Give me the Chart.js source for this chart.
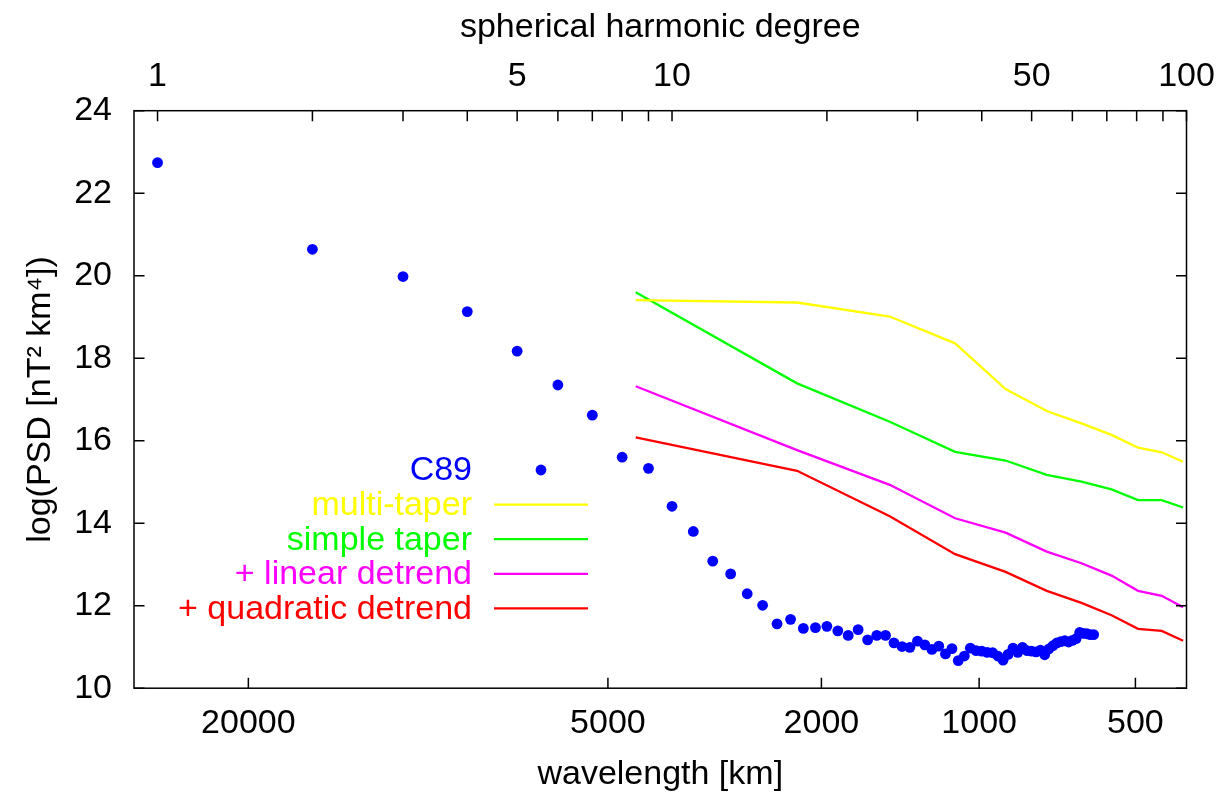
<!DOCTYPE html>
<html><head><meta charset="utf-8">
<script src="https://cdn.jsdelivr.net/npm/chart.js@4.4.1/dist/chart.umd.min.js"></script>
<style>html,body{margin:0;padding:0;background:#fff;overflow:hidden}#wrap{width:1230px;height:797px}</style>
</head><body><div id="wrap"><canvas id="c" width="1230" height="797"></canvas></div>
<script>
// Earth circumference (km): wavelength = C / (degree + 0.5)
const EARTH_CIRCUMFERENCE_KM = 40030;

// top axis: spherical harmonic degree
const degreeTicks = [1,2,3,4,5,6,7,8,9,10,20,30,40,50,60,70,80,90,100];
const degreeLabels = [1,5,10,50,100];
// bottom axis: wavelength in km
const wavelengthTicks = [20000,5000,2000,1000,500];
// left axis
const yTicks = [10,12,14,16,18,20,22,24];

// C89 spectrum (degree, log PSD)
const c89Degrees = [1,2,3,4,5,6,7,8,9,10,11,12,13,14,15,16,17,18,19,20,
  21,22,23,24,25,26,27,28,29,30,31,32,33,34,35,36,37,38,39,40,
  41,42,43,44,45,46,47,48,49,50,51,52,53,54,55,56,57,58,59,60,
  61,62,63,64,65,66];
const c89Values = [22.74,20.64,19.98,19.13,18.17,17.35,16.62,15.60,15.33,14.41,
  13.80,13.08,12.77,12.29,12.01,11.56,11.67,11.45,11.47,11.50,
  11.39,11.28,11.42,11.17,11.28,11.28,11.10,11.01,10.99,11.14,
  11.05,10.94,11.02,10.83,10.96,10.67,10.78,10.97,10.91,10.90,
  10.87,10.86,10.78,10.68,10.82,10.97,10.87,10.99,10.91,10.90,
  10.88,10.92,10.81,10.95,11.03,11.10,11.13,11.15,11.12,11.16,
  11.20,11.35,11.33,11.32,11.30,11.30];

// gridded-spectrum estimates (degree, log PSD)
const spectrumDegrees = [8.5,17.5,26.5,35.5,44.5,53.5,62.5,71.5,80.5,89.5,98.5];
const multiTaper       = [19.41,19.35,19.01,18.36,17.25,16.72,16.42,16.14,15.83,15.72,15.49];
const simpleTaper      = [19.60,17.39,16.46,15.73,15.52,15.17,15.01,14.82,14.56,14.56,14.38];
const linearDetrend    = [17.32,15.77,14.93,14.12,13.77,13.31,13.03,12.73,12.36,12.24,11.96];
const quadraticDetrend = [16.08,15.27,14.17,13.25,12.82,12.36,12.07,11.77,11.44,11.39,11.15];

const seriesNames = ['C89','multi-taper','simple taper','+ linear detrend','+ quadratic detrend'];
const seriesColors = ['#0000ff','#ffff00','#00ff00','#ff00ff','#ff0000'];

const FONT = '"Liberation Sans", Arial, Helvetica, sans-serif';
const FS = 34;
const LW = 2.3;

function pts(xs, ys){ return xs.map((x,i)=>({x:x, y:ys[i]})); }
function lineDs(i, ys){
  return {label: seriesNames[i], data: pts(spectrumDegrees, ys), showLine: true,
    borderColor: seriesColors[i], backgroundColor: seriesColors[i], borderWidth: LW,
    pointRadius: 0, tension: 0, fill: false};
}

const frameTicks = {
  id: 'frameTicks',
  afterDatasetsDraw(chart){
    const {ctx, chartArea:{left,right,top,bottom}, scales} = chart;
    const L = 10.5;
    ctx.save();
    ctx.strokeStyle = '#000'; ctx.lineWidth = 1.5;
    ctx.beginPath();
    scales.y.ticks.forEach(t => {
      const y = scales.y.getPixelForValue(t.value);
      ctx.moveTo(left, y); ctx.lineTo(left+L, y);
      ctx.moveTo(right, y); ctx.lineTo(right-L, y);
    });
    scales.x2.ticks.forEach(t => {
      const x = scales.x2.getPixelForValue(t.value);
      ctx.moveTo(x, top); ctx.lineTo(x, top+L);
    });
    scales.x.ticks.forEach(t => {
      const x = scales.x.getPixelForValue(t.value);
      ctx.moveTo(x, bottom); ctx.lineTo(x, bottom-L);
    });
    ctx.stroke();
    ctx.strokeRect(left, top, right-left, bottom-top);
    ctx.restore();
  }
};

const keyBox = {
  id: 'keyBox',
  afterDatasetsDraw(chart){
    const ctx = chart.ctx;
    const textRight = 472, x0 = 494, x1 = 588, y0 = 470, dy = 34.6;
    ctx.save();
    ctx.font = FS + 'px ' + FONT;
    ctx.textAlign = 'right';
    ctx.textBaseline = 'middle';
    chart.data.datasets.forEach((ds, i) => {
      const y = y0 + i*dy;
      ctx.fillStyle = ds.borderColor;
      ctx.fillText(ds.label, textRight, y + 1);
      if (ds.showLine) {
        ctx.strokeStyle = ds.borderColor; ctx.lineWidth = LW;
        ctx.beginPath(); ctx.moveTo(x0, y); ctx.lineTo(x1, y); ctx.stroke();
      } else {
        ctx.fillStyle = ds.backgroundColor;
        ctx.beginPath(); ctx.arc((x0+x1)/2, y, 5.4, 0, Math.PI*2); ctx.fill();
      }
    });
    ctx.restore();
  }
};

new Chart(document.getElementById('c'), {
  type: 'scatter',
  data: {
    datasets: [
      {label: seriesNames[0], data: pts(c89Degrees, c89Values), showLine: false,
       backgroundColor: seriesColors[0], borderColor: seriesColors[0], borderWidth: 0,
       pointRadius: 5.4, pointHoverRadius: 5.4},
      lineDs(1, multiTaper),
      lineDs(2, simpleTaper),
      lineDs(3, linearDetrend),
      lineDs(4, quadraticDetrend)
    ]
  },
  options: {
    responsive: false, animation: false, devicePixelRatio: 1,
    layout: {padding: {left: 0, right: 43.5, top: 0, bottom: 0}},
    plugins: {legend: {display: false}, tooltip: {enabled: false}},
    scales: {
      x: {
        type: 'logarithmic', position: 'bottom', min: 0.9, max: 100,
        afterBuildTicks: s => { s.ticks = wavelengthTicks.map(w => ({value: EARTH_CIRCUMFERENCE_KM / w - 0.5})); },
        afterFit: s => { s.height = 108.8; },
        grid: {display: false, drawTicks: false},
        border: {display: false},
        ticks: {autoSkip: false, maxRotation: 0, minRotation: 0, padding: 15, color: '#000',
          font: {family: FONT, size: FS},
          callback: (v, i) => String(wavelengthTicks[i])},
        title: {display: true, text: 'wavelength [km]', color: '#000',
          font: {family: FONT, size: FS}, padding: {top: 0, bottom: 2}}
      },
      x2: {
        type: 'logarithmic', position: 'top', min: 0.9, max: 100,
        afterBuildTicks: s => { s.ticks = degreeTicks.map(v => ({value: v})); },
        afterFit: s => { s.height = 110.7; },
        grid: {display: false, drawTicks: false},
        border: {display: false},
        ticks: {autoSkip: false, maxRotation: 0, minRotation: 0, padding: 14, color: '#000',
          font: {family: FONT, size: FS},
          callback: (v, i) => degreeLabels.includes(degreeTicks[i]) ? String(degreeTicks[i]) : ''},
        title: {display: true, text: 'spherical harmonic degree', color: '#000',
          font: {family: FONT, size: FS}, padding: {top: 7, bottom: 0}}
      },
      y: {
        type: 'linear', position: 'left', min: 10, max: 24,
        afterBuildTicks: s => { s.ticks = yTicks.map(v => ({value: v})); },
        afterFit: s => { s.width = 134; },
        grid: {display: false, drawTicks: false},
        border: {display: false},
        ticks: {padding: 22, color: '#000', font: {family: FONT, size: FS},
          callback: (v, i) => String(yTicks[i])},
        title: {display: true, text: 'log(PSD [nT² km⁴])', color: '#000',
          font: {family: FONT, size: FS}, padding: {top: 20, bottom: 0}}
      }
    }
  },
  plugins: [frameTicks, keyBox]
});
</script>
</body></html>
